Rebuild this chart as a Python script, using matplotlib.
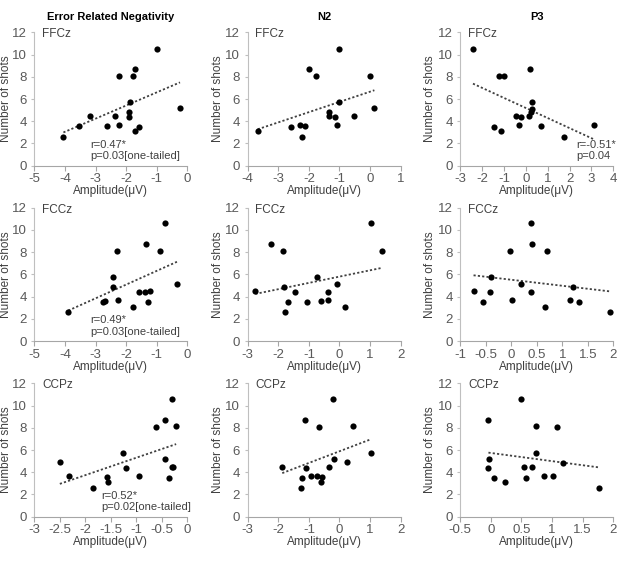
import matplotlib
matplotlib.use("Agg")
from matplotlib import pyplot as plt
import numpy as np

plt.rcParams['font.family'] = ['Liberation Sans', 'DejaVu Sans']

# number of shots per subject
ern_ffcz_x = [-0.99, -2.22, -1.79, -1.72, -1.89, -1.92, -1.90, -2.36, -3.18, -3.53, -2.61, -2.22, -1.70, -1.57, -4.05, -0.24]
ern_ffcz_y = [10.5, 8.1, 8.05, 8.7, 5.75, 4.85, 4.35, 4.45, 4.5, 3.55, 3.6, 3.65, 3.1, 3.5, 2.6, 5.15]

n2_ffcz_x = [-3.67, -2.59, -2.30, -2.12, -2.21, -1.98, -1.77, -1.03, -1.02, -1.34, -1.34, -1.15, -1.09, -0.53, 0.0, 0.14]
n2_ffcz_y = [3.1, 3.5, 3.65, 3.55, 2.6, 8.7, 8.05, 10.5, 5.75, 4.85, 4.5, 4.35, 3.65, 4.45, 8.1, 5.15]

p3_ffcz_x = [-2.42, -1.21, -0.98, 0.20, 0.28, 0.26, 0.25, 0.15, -0.43, -0.21, -0.32, -1.45, -1.15, 0.70, 1.73, 3.12]
p3_ffcz_y = [10.5, 8.05, 8.1, 8.7, 5.75, 5.1, 4.85, 4.5, 4.45, 4.35, 3.65, 3.5, 3.1, 3.55, 2.6, 3.65]

ern_fccz_x = [-0.72, -1.36, -0.89, -2.29, -2.42, -2.42, -2.25, -2.75, -2.70, -1.57, -1.37, -1.21, -1.27, -1.76, -0.34, -3.89]
ern_fccz_y = [10.6, 8.7, 8.1, 8.1, 5.8, 4.85, 3.7, 3.55, 3.6, 4.4, 4.4, 4.5, 3.5, 3.1, 5.1, 2.65]

n2_fccz_x = [-2.75, -2.25, -1.84, -1.81, -1.69, -1.77, -1.46, -1.05, -0.73, -0.59, -0.37, -0.37, -0.08, 0.19, 1.02, 1.40]
n2_fccz_y = [4.5, 8.7, 8.1, 4.85, 3.55, 2.65, 4.4, 3.5, 5.8, 3.6, 3.7, 4.45, 5.1, 3.1, 10.6, 8.1]

p3_fccz_x = [-0.74, -0.55, -0.41, -0.39, -0.03, 0.01, 0.19, 0.39, 0.41, 0.38, 0.70, 0.66, 1.16, 1.21, 1.33, 1.93]
p3_fccz_y = [4.5, 3.5, 4.4, 5.8, 8.1, 3.7, 5.1, 10.6, 8.7, 4.45, 8.1, 3.1, 3.7, 4.85, 3.55, 2.65]

ern_ccpz_x = [-2.50, -2.32, -1.85, -1.57, -1.55, -1.26, -1.21, -0.95, -0.61, -0.43, -0.44, -0.30, -0.22, -0.31, -0.29, -0.35]
ern_ccpz_y = [4.9, 3.7, 2.6, 3.55, 3.1, 5.75, 4.35, 3.7, 8.05, 8.7, 5.15, 10.55, 8.15, 4.5, 4.45, 3.5]

n2_ccpz_x = [-1.87, -1.14, -1.09, -1.23, -1.27, -0.93, -0.73, -0.66, -0.58, -0.60, -0.33, -0.20, -0.17, 0.23, 0.44, 1.02]
n2_ccpz_y = [4.5, 8.7, 4.35, 3.45, 2.6, 3.7, 3.7, 8.05, 3.55, 3.1, 4.45, 10.55, 5.15, 4.9, 8.15, 5.75]

p3_ccpz_x = [-0.04, -0.03, -0.04, 0.05, 0.23, 0.50, 0.54, 0.58, 0.67, 0.74, 0.73, 0.86, 1.02, 1.08, 1.18, 1.76]
p3_ccpz_y = [8.7, 5.15, 4.35, 3.45, 3.1, 10.55, 4.5, 3.5, 4.45, 8.15, 5.75, 3.7, 3.7, 8.05, 4.85, 2.6]

columns = ["Error Related Negativity", "N2", "P3"]
sites = ["FFCz", "FCCz", "CCPz"]
xlims = [
    [(-5, 0, 1), (-4, 1, 1), (-3, 4, 1)],
    [(-5, 0, 1), (-3, 2, 1), (-1, 2, 0.5)],
    [(-3, 0, 0.5), (-3, 2, 1), (-0.5, 2, 0.5)],
]
panels = [
    [(ern_ffcz_x, ern_ffcz_y), (n2_ffcz_x, n2_ffcz_y), (p3_ffcz_x, p3_ffcz_y)],
    [(ern_fccz_x, ern_fccz_y), (n2_fccz_x, n2_fccz_y), (p3_fccz_x, p3_fccz_y)],
    [(ern_ccpz_x, ern_ccpz_y), (n2_ccpz_x, n2_ccpz_y), (p3_ccpz_x, p3_ccpz_y)],
]
# (row, col): (r text, p text, x frac)
stats = {
    (0, 0): ("r=0.47*", "p=0.03[one-tailed]", 0.368),
    (0, 2): ("r=-0.51*", "p=0.04", 0.759),
    (1, 0): ("r=0.49*", "p=0.03[one-tailed]", 0.368),
    (2, 0): ("r=0.52*", "p=0.02[one-tailed]", 0.44),
}

TICK = "#595959"
AXIS = "#bfbfbf"
TEXT = "#404040"

lefts = [0.0552, 0.3982, 0.740]
bottoms = [0.7057, 0.3943, 0.0822]
w, h = 0.246, 0.2369


def draw(ax, x, y, lim, site):
    x = np.array(x)
    y = np.array(y)
    ax.scatter(x, y, s=20, color="black", zorder=3, linewidths=0)
    a, b = np.polyfit(x, y, 1)
    xs = np.array([x.min(), x.max()])
    ax.plot(xs, a * xs + b, color="#404040", linestyle=(0, (1.2, 1.2)), linewidth=1.3)

    lo, hi, step = lim
    ax.set_xlim(lo, hi)
    ax.set_ylim(0, 12)
    ticks = np.arange(lo, hi + step / 2, step)
    ax.set_xticks(ticks)
    ax.set_xticklabels(["%g" % t for t in ticks])
    ax.set_yticks(range(0, 13, 2))
    for side in ["top", "right"]:
        ax.spines[side].set_visible(False)
    ax.spines["left"].set_color(AXIS)
    ax.spines["bottom"].set_color("#a6a6a6")
    ax.tick_params(axis="x", colors="#a6a6a6", labelcolor=TICK, labelsize=9.5, length=3.5, pad=2)
    ax.tick_params(axis="y", colors=AXIS, labelcolor=TICK, labelsize=9.5, length=2.5, pad=3)
    ax.set_xlabel("Amplitude(μV)", fontsize=8.5, color=TEXT, labelpad=0)
    ax.set_ylabel("Number of shots", fontsize=8.5, color=TEXT, labelpad=1)
    ax.text(0.05, 1.03, site, transform=ax.transAxes, va="top", ha="left",
            fontsize=8.5, color=TEXT)


def main():
    fig = plt.figure(figsize=(6.22, 5.63), dpi=100)
    for r in range(3):
        for c in range(3):
            ax = fig.add_axes([lefts[c], bottoms[r], w, h])
            x, y = panels[r][c]
            draw(ax, x, y, xlims[r][c], sites[r])
            if c == 0:
                # left column label sits right at the figure edge
                ax.yaxis.set_label_coords(-0.145, 0.5)
            if r == 0:
                ax.set_title(columns[c], fontsize=8, fontweight="bold", pad=9)
            if (r, c) in stats:
                rt, pt, xf = stats[(r, c)]
                ax.text(xf, 0.155, rt, transform=ax.transAxes, va="center",
                        fontsize=8, color=TEXT)
                ax.text(xf, 0.07, pt, transform=ax.transAxes, va="center",
                        fontsize=8, color=TEXT)
    fig.savefig("out.png", dpi=100)


if __name__ == '__main__':
    main()
